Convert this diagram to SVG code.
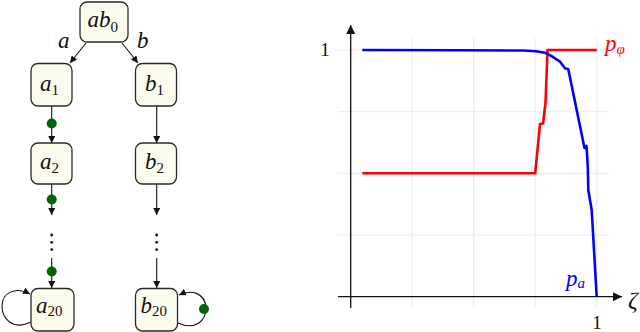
<svg xmlns="http://www.w3.org/2000/svg" width="640" height="332" viewBox="0 0 640 332">
<style>
.node rect{fill:#fcfcee;stroke:#2a2a2a;stroke-width:1.3}
.m{font-family:"Liberation Serif","DejaVu Serif",serif;font-style:italic;font-size:23px;fill:#111}
.sub{font-style:normal;font-size:15px}
.e{stroke:#111;stroke-width:1.1;fill:none}
.dot{fill:#006400}
.grid{stroke:#ebebeb;stroke-width:1}
.ax{stroke:#111;stroke-width:1.3;fill:none}
.n{font-family:"Liberation Serif","DejaVu Serif",serif;font-size:19px;fill:#111}
</style>
<defs>
<marker id="ar" viewBox="0 0 10 10" refX="10" refY="5" markerWidth="7" markerHeight="7" markerUnits="userSpaceOnUse" orient="auto">
<path d="M0,0 L10,5 L0,10 Z" fill="#111"/>
</marker>
<marker id="ax" viewBox="0 0 10 10" refX="10" refY="5" markerWidth="9" markerHeight="9" markerUnits="userSpaceOnUse" orient="auto">
<path d="M0,0 L10,5 L0,10 Z" fill="#111"/>
</marker>
</defs>

<g id="connectors">
<line class="e" x1="86" y1="43" x2="70" y2="63" marker-end="url(#ar)"/>
<line class="e" x1="122" y1="43" x2="138" y2="63" marker-end="url(#ar)"/>
<text class="m" x="58" y="48">a</text>
<text class="m" x="137" y="48">b</text>
<line class="e" x1="51.7" y1="106" x2="51.7" y2="143" marker-end="url(#ar)"/>
<circle class="dot" cx="51.7" cy="123.5" r="5"/>
<line class="e" x1="51.7" y1="184" x2="51.7" y2="215" marker-end="url(#ar)"/>
<circle class="dot" cx="51.7" cy="199.5" r="5"/>
<line class="e" x1="51.7" y1="258" x2="51.7" y2="288" marker-end="url(#ar)"/>
<circle class="dot" cx="51.7" cy="271.5" r="5"/>
<line class="e" x1="156.7" y1="106" x2="156.7" y2="143" marker-end="url(#ar)"/>
<line class="e" x1="156.7" y1="184" x2="156.7" y2="215" marker-end="url(#ar)"/>
<line class="e" x1="156.7" y1="258" x2="156.7" y2="288" marker-end="url(#ar)"/>
<g fill="#111">
<circle cx="51.7" cy="235" r="1.4"/><circle cx="51.7" cy="242.3" r="1.4"/><circle cx="51.7" cy="249.6" r="1.4"/>
<circle cx="156.7" cy="235" r="1.4"/><circle cx="156.7" cy="242.3" r="1.4"/><circle cx="156.7" cy="249.6" r="1.4"/>
</g>
<path class="e" d="M31,322 C12,331 2,318 2,306 C2,293 15,286 30,294" marker-end="url(#ar)"/>
<path class="e" d="M178,323 C196,331 206,320 206,308 C205,293 192,289 179,295" marker-end="url(#ar)"/>
<circle class="dot" cx="204" cy="309" r="5"/>
</g>

<g id="n_ab0" class="node"><rect x="80" y="2" width="48" height="40" rx="7"/><text class="m" x="87.5" y="27">ab<tspan class="sub" dy="5">0</tspan></text></g>
<g id="n_a1" class="node"><rect x="31" y="63.5" width="41" height="42.5" rx="7"/><text class="m" x="40" y="91">a<tspan class="sub" dy="4">1</tspan></text></g>
<g id="n_b1" class="node"><rect x="135.5" y="63.5" width="41" height="42.5" rx="7"/><text class="m" x="145" y="91">b<tspan class="sub" dy="4">1</tspan></text></g>
<g id="n_a2" class="node"><rect x="31" y="143" width="41" height="41" rx="7"/><text class="m" x="40" y="169">a<tspan class="sub" dy="4">2</tspan></text></g>
<g id="n_b2" class="node"><rect x="135.5" y="143" width="41" height="41" rx="7"/><text class="m" x="145" y="169">b<tspan class="sub" dy="4">2</tspan></text></g>
<g id="n_a20" class="node"><rect x="31" y="288.5" width="43" height="42.5" rx="7"/><text class="m" x="36" y="313">a<tspan class="sub" dy="3">20</tspan></text></g>
<g id="n_b20" class="node"><rect x="135.5" y="288.5" width="42" height="42.5" rx="7"/><text class="m" x="140.5" y="313">b<tspan class="sub" dy="3">20</tspan></text></g>

<g id="plot">
<g class="grid">
<line x1="412.2" y1="38" x2="412.2" y2="308"/>
<line x1="473.7" y1="38" x2="473.7" y2="308"/>
<line x1="535.2" y1="38" x2="535.2" y2="308"/>
<line x1="596.7" y1="38" x2="596.7" y2="308"/>
<line x1="338" y1="50" x2="609" y2="50"/>
<line x1="338" y1="111.7" x2="609" y2="111.7"/>
<line x1="338" y1="173.3" x2="609" y2="173.3"/>
<line x1="338" y1="235" x2="609" y2="235"/>
</g>
<line class="ax" x1="350.7" y1="308" x2="350.7" y2="25" marker-end="url(#ax)"/>
<line class="ax" x1="338" y1="296.7" x2="622" y2="296.7" marker-end="url(#ax)"/>
<text class="n" x="325" y="56" text-anchor="middle">1</text>
<text class="n" x="597" y="328.5" text-anchor="middle">1</text>
<text class="m" x="628" y="308" style="font-size:24px">ζ</text>
<polyline fill="none" stroke="#ff0000" stroke-width="2.6" stroke-linejoin="round" points="362.3,173.3 535.2,173.3 540,124 543,123.5 545.5,103 547.5,50 596.7,50"/>
<polyline fill="none" stroke="#0000ff" stroke-width="2.6" stroke-linejoin="round" points="362.3,50 460,50.3 523,50.5 536,51.3 545,52.7 553,57 560,61.7 565,68.3 568.3,69.3 584.5,148 586.5,146 587.8,167 588.3,190 591.7,210 596.7,297"/>
<text class="m" x="605" y="50.5" style="fill:#ff0000">p<tspan class="sub" dy="3" style="font-style:italic">φ</tspan></text>
<text class="m" x="566" y="285.5" style="fill:#0000ff">p<tspan class="sub" dy="2" style="font-style:italic">a</tspan></text>
</g>
</svg>
